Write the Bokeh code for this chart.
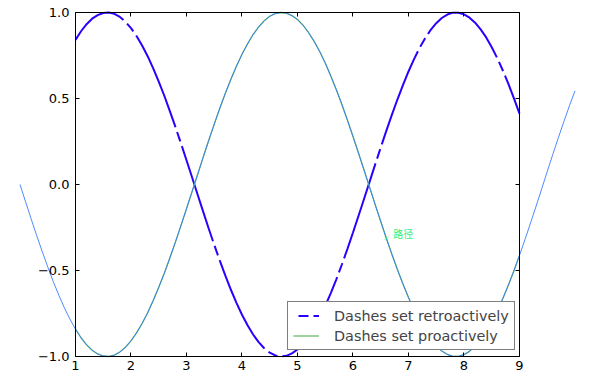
from bokeh.plotting import figure
from bokeh.models import (Range1d, LinearAxis, FixedTicker, Legend, LegendItem,
                          ColumnDataSource)
from bokeh.core.properties import value
from bokeh.embed import file_html
from bokeh.resources import INLINE

# ---- data ----
x_vals = [0.0, 0.1, 0.2, 0.3, 0.4, 0.5, 0.6, 0.7, 0.8, 0.9,
          1.0, 1.1, 1.2, 1.3, 1.4, 1.5, 1.6, 1.7, 1.8, 1.9,
          2.0, 2.1, 2.2, 2.3, 2.4, 2.5, 2.6, 2.7, 2.8, 2.9,
          3.0, 3.1, 3.2, 3.3, 3.4, 3.5, 3.6, 3.7, 3.8, 3.9,
          4.0, 4.1, 4.2, 4.3, 4.4, 4.5, 4.6, 4.7, 4.8, 4.9,
          5.0, 5.1, 5.2, 5.3, 5.4, 5.5, 5.6, 5.7, 5.8, 5.9,
          6.0, 6.1, 6.2, 6.3, 6.4, 6.5, 6.6, 6.7, 6.8, 6.9,
          7.0, 7.1, 7.2, 7.3, 7.4, 7.5, 7.6, 7.7, 7.8, 7.9,
          8.0, 8.1, 8.2, 8.3, 8.4, 8.5, 8.6, 8.7, 8.8, 8.9,
          9.0, 9.1, 9.2, 9.3, 9.4, 9.5, 9.6, 9.7, 9.8, 9.9, 10.0]
retro_vals = [0.000, 0.100, 0.199, 0.296, 0.389, 0.479, 0.565, 0.644, 0.717, 0.783,
              0.841, 0.891, 0.932, 0.964, 0.985, 0.997, 1.000, 0.992, 0.974, 0.946,
              0.909, 0.863, 0.808, 0.746, 0.675, 0.598, 0.516, 0.427, 0.335, 0.239,
              0.141, 0.042, -0.058, -0.158, -0.256, -0.351, -0.443, -0.530, -0.612, -0.688,
              -0.757, -0.818, -0.872, -0.916, -0.952, -0.978, -0.994, -1.000, -0.996, -0.982,
              -0.959, -0.926, -0.883, -0.832, -0.773, -0.706, -0.631, -0.551, -0.465, -0.374,
              -0.279, -0.182, -0.083, 0.017, 0.117, 0.215, 0.312, 0.405, 0.494, 0.578,
              0.657, 0.729, 0.794, 0.850, 0.899, 0.938, 0.968, 0.988, 0.999, 0.999,
              0.989, 0.970, 0.941, 0.902, 0.855, 0.798, 0.734, 0.663, 0.585, 0.501,
              0.412, 0.319, 0.223, 0.125, 0.025, -0.075, -0.175, -0.272, -0.366, -0.458, -0.544]
pro_vals = [0.000, -0.100, -0.199, -0.296, -0.389, -0.479, -0.565, -0.644, -0.717, -0.783,
            -0.841, -0.891, -0.932, -0.964, -0.985, -0.997, -1.000, -0.992, -0.974, -0.946,
            -0.909, -0.863, -0.808, -0.746, -0.675, -0.598, -0.516, -0.427, -0.335, -0.239,
            -0.141, -0.042, 0.058, 0.158, 0.256, 0.351, 0.443, 0.530, 0.612, 0.688,
            0.757, 0.818, 0.872, 0.916, 0.952, 0.978, 0.994, 1.000, 0.996, 0.982,
            0.959, 0.926, 0.883, 0.832, 0.773, 0.706, 0.631, 0.551, 0.465, 0.374,
            0.279, 0.182, 0.083, -0.017, -0.117, -0.215, -0.312, -0.405, -0.494, -0.578,
            -0.657, -0.729, -0.794, -0.850, -0.899, -0.938, -0.968, -0.988, -0.999, -0.999,
            -0.989, -0.970, -0.941, -0.902, -0.855, -0.798, -0.734, -0.663, -0.585, -0.501,
            -0.412, -0.319, -0.223, -0.125, -0.025, 0.075, 0.175, 0.272, 0.366, 0.458, 0.544]
x_ticks = [1, 2, 3, 4, 5, 6, 7, 8, 9]
x_tick_labels = ["1", "2", "3", "4", "5", "6", "7", "8", "9"]
y_ticks = [-1.0, -0.5, 0.0, 0.5, 1.0]
y_tick_labels = ["\u22121.0", "\u22120.5", "0.0", "0.5", "1.0"]
label_x = [6.6]
label_y = [-0.312]
label_text = ["路径"]
legend_labels = ["Dashes set retroactively", "Dashes set proactively"]

# visible axes span
x_lo, x_hi = 1.0, 9.0
y_lo, y_hi = -1.0, 1.0

W, H = 600, 380
p = figure(width=W, height=H, output_backend="svg", toolbar_location=None,
           x_range=Range1d(-0.35135, 10.4595), y_range=Range1d(-1.13953, 1.06977),
           x_axis_location=None, y_axis_location=None,
           min_border=0, min_border_left=0, min_border_right=0,
           min_border_top=0, min_border_bottom=0)
p.outline_line_color = None
p.background_fill_color = "white"
p.border_fill_color = "white"
for g in p.grid:
    g.grid_line_color = None

i0 = x_vals.index(x_lo)
i1 = x_vals.index(x_hi) + 1

blue = "#2a00ff"
green = "#66bb66"

retro = p.line(x_vals[i0:i1], retro_vals[i0:i1], line_color=blue, line_width=2,
               line_dash="10 5 100 5", line_dash_offset=53)
pro = p.line(x_vals[i0:i1], pro_vals[i0:i1], line_color=green, line_width=1.3)
p.line(x_vals, pro_vals, line_color="#3a7cff", line_width=0.9)

# legend proxy for the dashed line (draws nothing in the plot)
nan = float("nan")
proxy_src = ColumnDataSource(data=dict(x=[nan], y=[nan]))
proxy = p.line("x", "y", source=proxy_src, line_color=blue, line_width=2,
               line_dash="10 5 100 5", line_dash_offset=115)

p.scatter(label_x, label_y, marker="x", size=4, line_color="#33ee77", line_width=1)
p.text(label_x, label_y, text=label_text, text_font=value("Noto Sans CJK SC"),
       text_font_size="10px", text_color="#33ee77", text_align="left",
       text_baseline="middle", x_offset=7, y_offset=-5)


def style(ax, show_labels):
    ax.axis_line_color = "black"
    ax.axis_line_width = 1
    ax.major_tick_in = 4
    ax.major_tick_out = 0
    ax.minor_tick_in = 0
    ax.minor_tick_out = 0
    ax.major_tick_line_color = "black"
    ax.major_label_text_font = "DejaVu Sans"
    ax.major_label_text_font_size = "13px"
    ax.major_label_text_color = "black" if show_labels else None


bottom = LinearAxis(fixed_location=y_lo, bounds=(x_lo, x_hi),
                    ticker=FixedTicker(ticks=x_ticks),
                    major_label_overrides={t: l for t, l in zip(x_ticks, x_tick_labels)})
style(bottom, True)
bottom.major_label_standoff = 4
p.add_layout(bottom, "below")

top = LinearAxis(fixed_location=y_hi, bounds=(x_lo, x_hi), ticker=FixedTicker(ticks=x_ticks))
style(top, False)
p.add_layout(top, "above")

left = LinearAxis(fixed_location=x_lo, bounds=(y_lo, y_hi),
                  ticker=FixedTicker(ticks=y_ticks),
                  major_label_overrides={t: l for t, l in zip(y_ticks, y_tick_labels)})
style(left, True)
left.major_label_standoff = 6
p.add_layout(left, "left")

right = LinearAxis(fixed_location=x_hi, bounds=(y_lo, y_hi), ticker=FixedTicker(ticks=y_ticks))
style(right, False)
p.add_layout(right, "right")

legend = Legend(items=[LegendItem(label=legend_labels[0], renderers=[proxy]),
                       LegendItem(label=legend_labels[1], renderers=[pro])],
                location=(287, 30), margin=0, padding=5, spacing=3,
                glyph_width=26, glyph_height=17, label_height=17, label_standoff=15,
                label_text_font="DejaVu Sans", label_text_font_size="14.4px",
                border_line_color="black", border_line_width=1,
                background_fill_color="white", background_fill_alpha=1)
p.add_layout(legend, "center")

open("out.html", "w").write(file_html(p, INLINE))
